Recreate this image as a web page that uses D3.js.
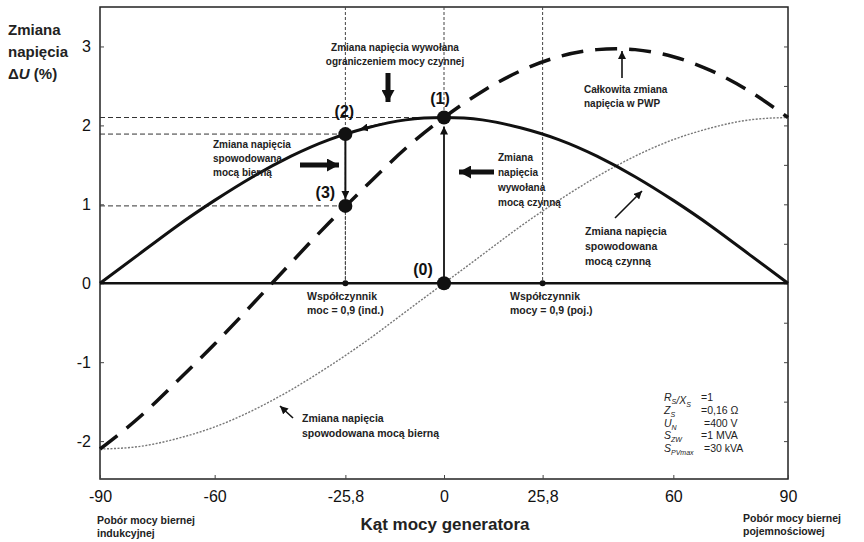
<!DOCTYPE html>
<html><head><meta charset="utf-8">
<script src="https://cdn.jsdelivr.net/npm/d3@7"></script>
<style>
body{margin:0;background:#fff;}
svg{font-family:"Liberation Sans",Arial,sans-serif;}
</style></head>
<body><svg id="c" width="864" height="542"></svg>
<script>
// ---- data ----
const angles       = [-90,-80,-70,-60,-50,-40,-30,-20,-10,0,10,20,30,40,50,60,70,80,90];
const activeDU     = [0,0.36,0.72,1.05,1.35,1.61,1.82,1.97,2.07,2.1,2.07,1.97,1.82,1.61,1.35,1.05,0.72,0.36,0];
const reactiveDU   = [-2.1,-2.07,-1.97,-1.82,-1.61,-1.35,-1.05,-0.72,-0.36,0,0.36,0.72,1.05,1.35,1.61,1.82,1.97,2.07,2.1];
const totalDU      = [-2.1,-1.71,-1.25,-0.77,-0.26,0.26,0.77,1.25,1.71,2.1,2.43,2.69,2.87,2.96,2.96,2.87,2.69,2.43,2.1];
const pointLabels  = ["(0)","(1)","(2)","(3)"];
const pointAngles  = [0,0,-25.8,-25.8];
const pointValues  = [0,2.1,1.89,0.98];
const xTickValues  = [-90,-60,-25.8,0,25.8,60,90];
const yTickValues  = [-2,-1,0,1,2,3];
const pfAngles     = [-25.8,25.8];
const paramNames   = [["R","S","/","X","S"],["Z","S"],["U","N"],["S","ZW"],["S","PVmax"]];
const paramValues  = ["=1","=0,16 Ω","=400 V","=1 MVA","=30 kVA"];

const svg = d3.select("#c");
const x = d3.scaleLinear().domain([-90,90]).range([100,788]);
const y = d3.scaleLinear().domain([-2.48,3.5]).range([479,7]);

const defs = svg.append("defs");
function marker(id,w,h){
  defs.append("marker").attr("id",id).attr("viewBox",`0 0 ${w} ${h}`)
    .attr("refX",w).attr("refY",h/2).attr("markerWidth",w).attr("markerHeight",h)
    .attr("markerUnits","userSpaceOnUse").attr("orient","auto")
    .append("path").attr("d",`M0,0L${w},${h/2}L0,${h}Z`).attr("fill","#111");
}
marker("big",12,13);
marker("small",8,8);

// frame
svg.append("rect").attr("x",x(-90)).attr("y",y(3.5)).attr("width",x(90)-x(-90)).attr("height",y(-2.48)-y(3.5))
  .attr("fill","none").attr("stroke","#222").attr("stroke-width",1.5);

// axes
const xAxis = svg.append("g").attr("transform",`translate(0,${y(-2.48)})`)
  .call(d3.axisBottom(x).tickValues(xTickValues).tickSize(-4).tickPadding(12)
    .tickFormat(d=>String(d).replace(".",",")));
const yAxis = svg.append("g").attr("transform",`translate(${x(-90)},0)`)
  .call(d3.axisLeft(y).tickValues(yTickValues).tickSize(-4).tickPadding(9).tickFormat(d=>String(d)));
const yAxisR = svg.append("g").attr("transform",`translate(${x(90)},0)`)
  .call(d3.axisRight(y).tickValues(d3.range(-2,3.5,0.5)).tickSize(-4).tickFormat(""));
[xAxis,yAxis,yAxisR].forEach(g=>{
  g.select(".domain").remove();
  g.selectAll("line").attr("stroke","#444");
  g.selectAll("text").attr("font-size",16).attr("fill","#111").attr("font-family","Liberation Sans,Arial,sans-serif");
});

// guide lines
const guide = svg.append("g").attr("stroke","#444").attr("stroke-width",1).attr("fill","none");
pfAngles.forEach(a=>guide.append("line").attr("x1",x(a)).attr("x2",x(a)).attr("y1",y(3.5)).attr("y2",y(0)).attr("stroke-dasharray","3,2"));
guide.append("line").attr("x1",x(0)).attr("x2",x(0)).attr("y1",y(3.5)).attr("y2",y(2.1)).attr("stroke-dasharray","3,2");
[[pointValues[1],pointAngles[1]],[pointValues[2],pointAngles[2]],[pointValues[3],pointAngles[3]]].forEach(([v,a])=>
  guide.append("line").attr("x1",x(-90)).attr("x2",x(a)).attr("y1",y(v)).attr("y2",y(v)).attr("stroke-dasharray","5,3").attr("stroke","#333"));

// zero line
svg.append("line").attr("x1",x(-90)).attr("x2",x(90)).attr("y1",y(0)).attr("y2",y(0)).attr("stroke","#111").attr("stroke-width",2.5);

const line = d3.line().x((d,i)=>x(angles[i])).y(d=>y(d)).curve(d3.curveNatural);
svg.append("path").attr("d",line(reactiveDU)).attr("fill","none").attr("stroke","#777").attr("stroke-width",1.4).attr("stroke-dasharray","2,1.5");
svg.append("path").attr("d",line(totalDU)).attr("fill","none").attr("stroke","#111").attr("stroke-width",3.5).attr("stroke-dasharray","22,12");
svg.append("path").attr("d",line(activeDU)).attr("fill","none").attr("stroke","#111").attr("stroke-width",3);

// construction arrows
svg.append("line").attr("x1",x(0)).attr("x2",x(0)).attr("y1",y(0)).attr("y2",y(2.1)+9).attr("stroke","#111").attr("stroke-width",1.8).attr("marker-end","url(#small)");
svg.append("line").attr("x1",x(-25.8)).attr("x2",x(-25.8)).attr("y1",y(1.89)).attr("y2",y(0.98)-7).attr("stroke","#111").attr("stroke-width",2).attr("marker-end","url(#small)");
svg.append("line").attr("x1",x(-25.8)).attr("x2",x(-25.8)).attr("y1",y(0.98)).attr("y2",y(0)).attr("stroke","#444").attr("stroke-width",1).attr("stroke-dasharray","3,2");
svg.append("line").attr("x1",x(-16)).attr("x2",x(-22)).attr("y1",y(2.02)).attr("y2",y(1.95)).attr("stroke","#111").attr("stroke-width",2).attr("marker-end","url(#small)");

// points
svg.selectAll("circle.pt").data(pointAngles).join("circle").attr("class","pt")
  .attr("cx",d=>x(d)).attr("cy",(d,i)=>y(pointValues[i])).attr("r",7).attr("fill","#111");
svg.selectAll("circle.pf").data(pfAngles).join("circle").attr("class","pf")
  .attr("cx",d=>x(d)).attr("cy",y(0)).attr("r",3).attr("fill","#111");
const labOff = [[-21,-8],[-4,-14],[-1,-17],[-20,-8]];
svg.selectAll("text.pl").data(pointLabels).join("text").attr("class","pl")
  .attr("x",(d,i)=>x(pointAngles[i])+labOff[i][0]).attr("y",(d,i)=>y(pointValues[i])+labOff[i][1])
  .attr("text-anchor","middle").attr("font-size",16).attr("font-weight","bold").attr("fill","#111").text(d=>d);

// text helper
function txt(lines,xp,yp,opt={}){
  const t=svg.append("text").attr("x",xp).attr("y",yp).attr("font-size",opt.size||10.5)
    .attr("font-weight",opt.weight||"bold").attr("fill",opt.fill||"#222").attr("text-anchor",opt.anchor||"start");
  lines.forEach((l,i)=>t.append("tspan").attr("x",xp).attr("dy",i?(opt.lh||14):0).text(l));
  return t;
}
function arrow(x1,y1,x2,y2,big){
  svg.append("line").attr("x1",x1).attr("y1",y1).attr("x2",x2).attr("y2",y2).attr("stroke","#111")
    .attr("stroke-width",big?5:1.6).attr("marker-end",big?"url(#big)":"url(#small)");
}

// y title
txt(["Zmiana","napięcia"],8,35,{size:15,lh:22,fill:"#222"});
const yt2 = svg.append("text").attr("x",8).attr("y",79).attr("font-size",15).attr("font-weight","bold").attr("fill","#222");
yt2.append("tspan").text("Δ");
yt2.append("tspan").attr("font-style","italic").text("U");
yt2.append("tspan").text(" (%)");

// x title
txt(["Kąt mocy generatora"],445,530,{size:17,anchor:"middle"});
txt(["Pobór mocy biernej","indukcyjnej"],97,524,{size:10.5,lh:13});
txt(["Pobór mocy biernej","pojemnościowej"],743,522,{size:10.5,lh:13});

// annotations
txt(["Zmiana napięcia wywołana","ograniczeniem mocy czynnej"],395,51,{anchor:"middle",size:10,lh:14});
arrow(388,73,388,102,true);
txt(["Zmiana napięcia","spowodowana","mocą bierną"],213,148,{size:10,lh:14});
arrow(300,165,339,165,true);
txt(["Zmiana","napięcia","wywołana","mocą czynną"],498,161,{size:10,lh:15});
arrow(494,172,459,172,true);
txt(["Całkowita zmiana","napięcia w PWP"],584,93,{size:10,lh:14});
arrow(622,78,622,51,false);
txt(["Zmiana napięcia","spowodowana","mocą czynną"],585,235,{size:10.5,lh:15});
arrow(615,218,642,191,false);
txt(["Zmiana napięcia","spowodowana mocą bierną"],302,422,{size:10.5,lh:15});
arrow(293,418,280,406,false);
txt(["Współczynnik","moc = 0,9 (ind.)"],307,300,{size:10.5,lh:14});
txt(["Współczynnik","mocy = 0,9 (poj.)"],510,300,{size:10.5,lh:14});

// parameter box
paramNames.forEach((p,i)=>{
  const yy=401+i*12.8;
  const t=svg.append("text").attr("x",664).attr("y",yy).attr("font-size",10.5).attr("fill","#222").attr("font-style","italic");
  for(let k=0;k<p.length;k+=2){
    t.append("tspan").attr("font-size",10.5).text(p[k]);
    t.append("tspan").attr("font-size",7).attr("dy",3).text(p[k+1]||"");
    t.append("tspan").attr("dy",-3).text("");
    if(p[k+2]){ t.append("tspan").text(p[k+2]); k+=1; }
  }
  svg.append("text").attr("x",i===0?701:(i===1||i===3?701:704)).attr("y",yy).attr("font-size",10.5).attr("fill","#222").text(paramValues[i]);
});
</script></body></html>
